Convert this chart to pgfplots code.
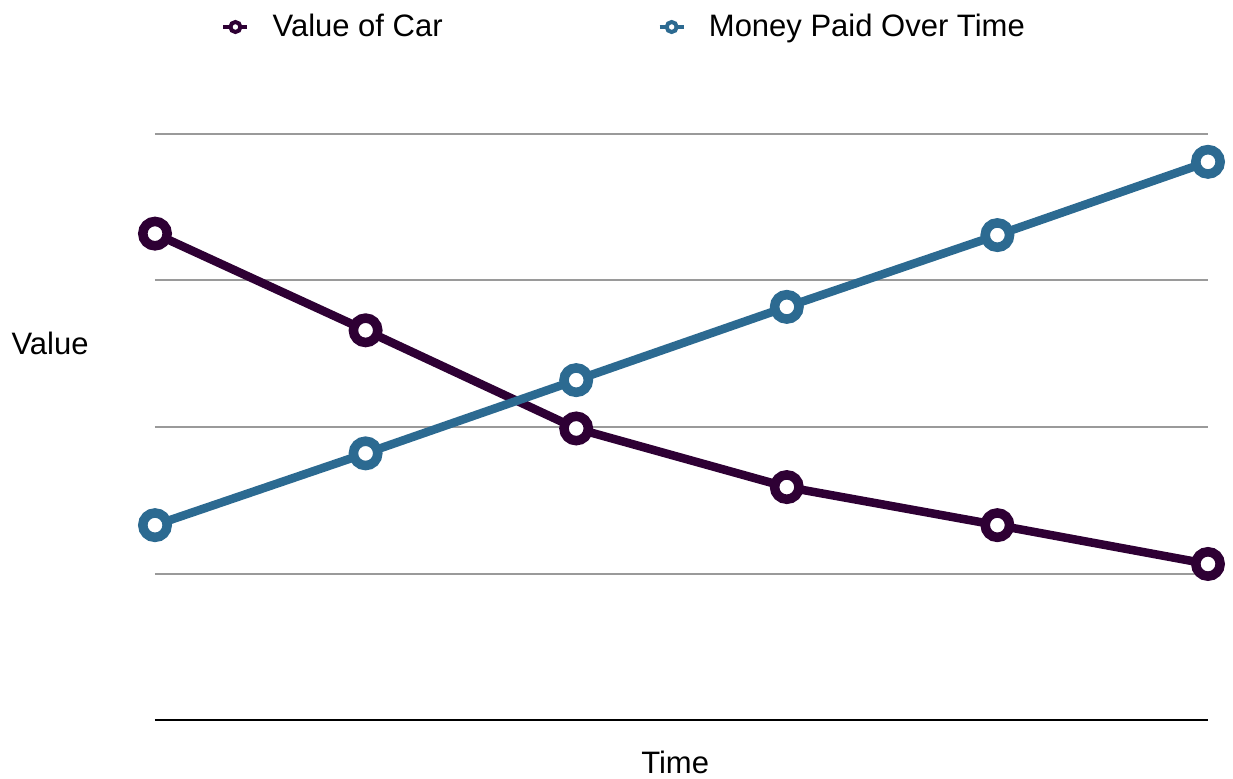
\documentclass[border=0pt]{standalone}
\usepackage{fontspec}
\setmainfont{Liberation Sans}
\usepackage{pgfplots}
\pgfplotsset{compat=1.18}
\definecolor{carpurple}{HTML}{2E0034}
\definecolor{paidblue}{HTML}{2C6A91}
\definecolor{gridgray}{HTML}{9A9A9A}
\begin{document}
\begin{tikzpicture}
\useasboundingbox (-77.5pt,-29pt) rectangle (539pt,360pt);
\begin{axis}[
  scale only axis,
  width=526.5pt, height=293pt,
  xmin=0, xmax=5, ymin=0, ymax=4,
  clip=false,
  font=\fontsize{15.5}{18}\selectfont,
  axis line style={draw=none},
  xtick=\empty,
  ytick={1,2,3,4},
  yticklabels={},
  major tick length=0pt,
  ymajorgrids,
  grid style={gridgray, line width=1pt},
  extra y ticks={0},
  extra y tick labels={},
  extra y tick style={grid style={black, line width=1.35pt}},
  xlabel={Time},
  every axis x label/.style={at={(axis description cs:0.494,-0.073)}, anchor=center},
  ylabel={Value},
  every axis y label/.style={at={(axis description cs:-0.0997,0.643)}, anchor=center, rotate=0},
  legend columns=2,
  legend style={at={(axis description cs:0.0627,1.1826)}, anchor=west, draw=none, fill=none, inner sep=0pt,
    /tikz/every even column/.append style={column sep=105.5pt}},
  legend image code/.code={
    \draw[#1, mark=none, line width=2pt] (0pt,0pt) -- (12pt,0pt);
    \draw[#1, mark=none, line width=2pt, fill=white] (6pt,0pt) circle (2.5pt);
    \path (20.5pt,0pt);
  },
]
\addplot[carpurple, line width=4.25pt, mark=*, mark size=6.1pt,
  mark options={fill=white, draw=carpurple, line width=4.75pt}]
  coordinates {(0,3.32) (1,2.66) (2,1.99) (3,1.59) (4,1.33) (5,1.065)};
\addlegendentry{Value of Car}
\addplot[paidblue, line width=4.25pt, mark=*, mark size=6.1pt,
  mark options={fill=white, draw=paidblue, line width=4.75pt}]
  coordinates {(0,1.33) (1,1.82) (2,2.32) (3,2.82) (4,3.31) (5,3.81)};
\addlegendentry{Money Paid Over Time}
\end{axis}
\end{tikzpicture}
\end{document}
